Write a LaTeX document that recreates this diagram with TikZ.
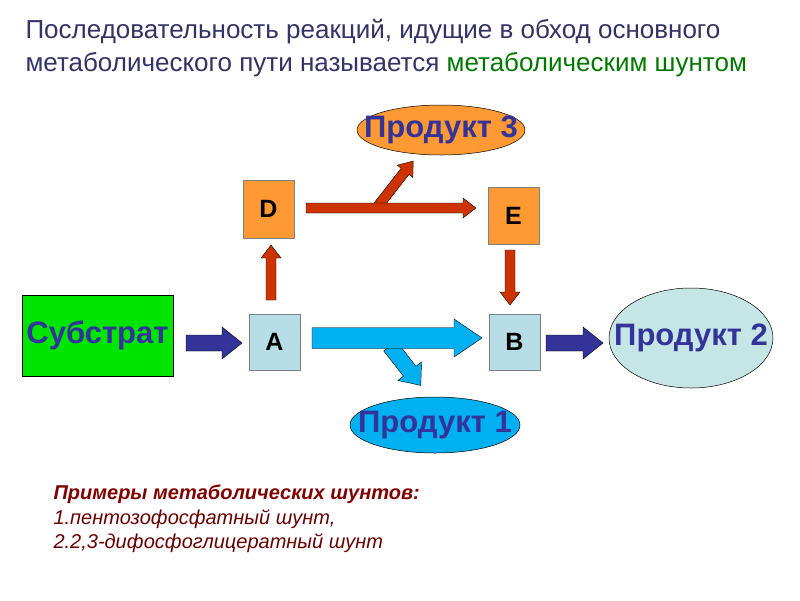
\documentclass[tikz,border=0pt]{standalone}
\usepackage{fontspec}
\setmainfont{Liberation Sans}
\usetikzlibrary{shapes.geometric}
\definecolor{ttl}{RGB}{51,51,102}
\definecolor{grn}{RGB}{0,120,0}
\definecolor{dblue}{RGB}{51,51,153}
\definecolor{rd}{RGB}{204,51,0}
\definecolor{cy}{RGB}{0,176,240}
\definecolor{lb}{RGB}{183,222,230}
\definecolor{lb2}{RGB}{198,230,230}
\definecolor{org}{RGB}{255,153,51}
\definecolor{dred}{RGB}{128,0,0}
\newcommand\barr[7]{\filldraw[fill=#7,draw=black,line width=0.4pt,shift={(#1)},rotate=#2] (0,-#4/2) -- (#3-#6,-#4/2) -- (#3-#6,-#5/2) -- (#3,0) -- (#3-#6,#5/2) -- (#3-#6,#4/2) -- (0,#4/2) -- cycle;}
\tikzset{
 sq/.style={draw=gray,line width=1pt,minimum width=51pt,minimum height=56pt,font=\fontsize{25}{28}\selectfont\bfseries},
 ell/.style={ellipse,draw=black,line width=0.5pt,inner sep=0pt},
 elltxt/.style={text=dblue,font=\fontsize{31}{34}\selectfont\bfseries},
 ttlf/.style={font=\fontsize{26}{30}\selectfont,text=ttl,anchor=west}
}
\begin{document}
\begin{tikzpicture}[x=1pt,y=-1pt]
\path[fill=white,use as bounding box] (0,0) rectangle (800,600);
\node[ttlf] (t1) at (22,32) {Последовательность реакций, идущие в обход основного};
\node[ttlf] (t2) at (22,65) {метаболического пути называется \textcolor{grn}{метаболическим шунтом}};
\node[draw=black,fill=green!90!black,minimum width=151pt,minimum height=81pt,text=dblue,font=\fontsize{31}{34}\selectfont\bfseries] (s) at (97.5,335.5) {Субстрат};
\node[sq,fill=lb] (A) at (274.5,342) {A};
\node[sq,fill=lb] (B) at (514.5,342) {B};
\node[sq,fill=org,minimum height=58pt] (D) at (268.5,209) {D};
\node[sq,fill=org,minimum height=57pt] (E) at (513.5,215.5) {E};
\node[ell,fill=org,minimum width=168pt,minimum height=50pt,label={[elltxt]center:Продукт 3}] (p3) at (441,130) {};
\node[ell,fill=lb2,minimum width=164pt,minimum height=100pt,label={[elltxt]center:Продукт 2}] (p2) at (691,338) {};
\node[ell,fill=cy,minimum width=170pt,minimum height=56pt,label={[elltxt]center:Продукт 1}] (p1) at (435,425) {};
\barr{186,343}{0}{56}{16}{32}{20}{dblue}
\barr{546,343}{0}{57}{16}{32}{20}{dblue}
\barr{390,346}{-52}{50}{16}{30}{18}{cy}
\barr{312,338}{0}{170}{21}{38}{28}{cy}
\barr{271,300}{90}{55}{10}{20}{13}{rd}
\barr{378,206}{52}{57}{10}{20}{13}{rd}
\barr{306,208}{0}{170}{10}{20}{13}{rd}
\barr{510,250}{-90}{55}{10}{20}{13}{rd}
\node[anchor=west,text=dred,font=\fontsize{20}{22}\selectfont\bfseries\itshape] (x1) at (50,494) {Примеры метаболических шунтов:};
\node[anchor=west,text=dred!80!black,font=\fontsize{20}{22}\selectfont\itshape] (x2) at (50,519) {1.пентозофосфатный шунт,};
\node[anchor=west,text=dred!80!black,font=\fontsize{20}{22}\selectfont\itshape] (x3) at (50,543) {2.2,3-дифосфоглицератный шунт};
\end{tikzpicture}
\end{document}
